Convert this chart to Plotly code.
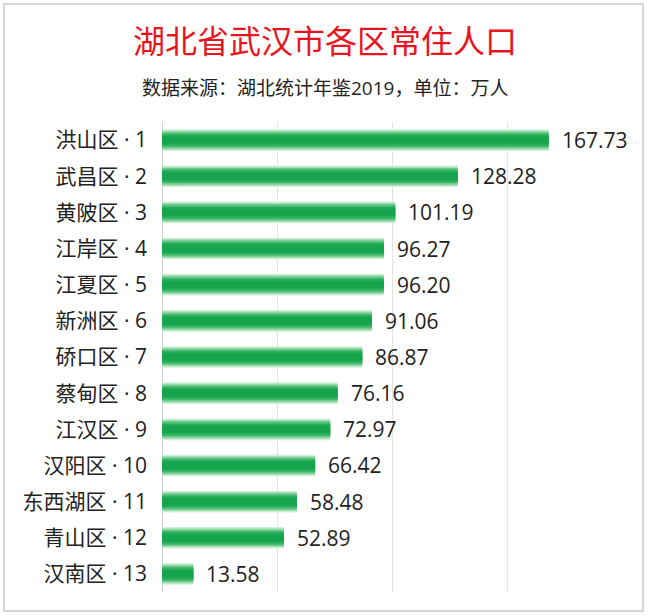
import plotly.graph_objects as go

districts = ["洪山区", "武昌区", "黄陂区", "江岸区", "江夏区", "新洲区", "硚口区",
             "蔡甸区", "江汉区", "汉阳区", "东西湖区", "青山区", "汉南区"]
ranks = list(range(1, 14))
population = [167.73, 128.28, 101.19, 96.27, 96.20, 91.06, 86.87,
              76.16, 72.97, 66.42, 58.48, 52.89, 13.58]
value_labels = [f"{v:.2f}" for v in population]
tick_labels = [f"{d} · {r}" for d, r in zip(districts, ranks)]

title_text = "湖北省武汉市各区常住人口"
subtitle_text = "数据来源：湖北统计年鉴2019，单位：万人"

FONT = "Open Sans, Noto Sans CJK SC, sans-serif"

# layered bars to imitate vertical gradient
layers = [
    (0.60, "rgba(205,238,214,0.9)"),
    (0.53, "rgb(165,222,182)"),
    (0.46, "rgb(115,202,142)"),
    (0.38, "rgb(66,185,108)"),
    (0.30, "rgb(36,172,86)"),
    (0.20, "rgb(22,165,76)"),
]

fig = go.Figure()
for w, c in layers:
    fig.add_trace(go.Bar(
        x=population, y=tick_labels, orientation="h", width=w,
        marker=dict(color=c, line=dict(width=0)),
        hoverinfo="skip", showlegend=False,
    ))

for v, lab, cat in zip(population, value_labels, tick_labels):
    fig.add_annotation(x=v, y=cat, text=lab, xanchor="left", xshift=11,
                       showarrow=False, font=dict(size=21, color="#222222", family=FONT))

cx = (325 - 162) / 461
fig.add_annotation(text=title_text, xref="paper", yref="paper", x=cx, y=1.0,
                   xanchor="center", yanchor="middle", yshift=(592 - 40) - 470,
                   showarrow=False, font=dict(size=32, color="#e8141e", family=FONT))
fig.add_annotation(text=subtitle_text, xref="paper", yref="paper", x=cx, y=1.0,
                   xanchor="center", yanchor="middle", yshift=(592 - 88) - 470,
                   showarrow=False, font=dict(size=19, color="#222222", family=FONT))

# border
fig.add_shape(type="rect", xref="paper", yref="paper",
              x0=(4 - 162) / 461, x1=(643 - 162) / 461,
              y0=(592 - 611) / 470, y1=(592 - 4) / 470,
              line=dict(color="#d6d6d6", width=2), layer="below")

fig.update_layout(
    width=649, height=616,
    margin=dict(l=162, r=26, t=122, b=24),
    paper_bgcolor="white", plot_bgcolor="white",
    barmode="overlay",
    font=dict(family=FONT, color="#222222"),
    xaxis=dict(range=[0, 200], dtick=50, showticklabels=False, showgrid=True,
               gridcolor="#e3e3e3", gridwidth=1, zeroline=True, zerolinecolor="#cfcfcf",
               zerolinewidth=1, fixedrange=True),
    yaxis=dict(autorange="reversed", showgrid=False, ticks="",
               tickfont=dict(size=21, color="#222222", family=FONT),
               ticklabelstandoff=14, fixedrange=True),
)

fig.write_html("out.html")
